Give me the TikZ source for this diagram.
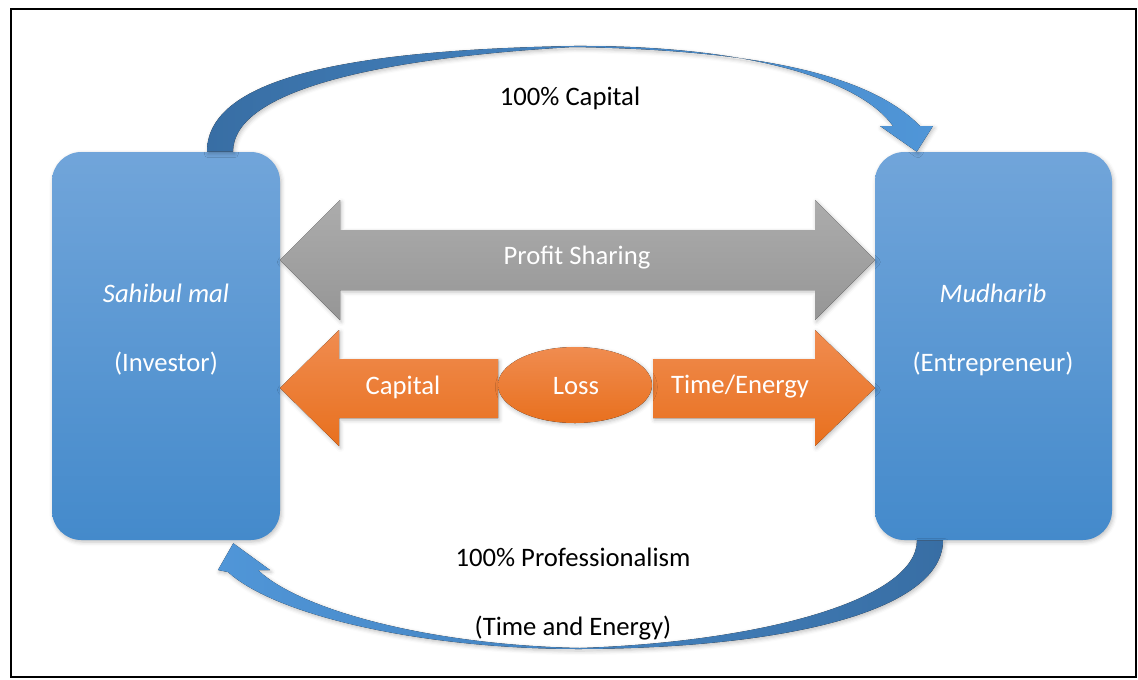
\documentclass[tikz,border=0pt]{standalone}
\usepackage{fontspec}
\setmainfont{Carlito}
\usepackage{xcolor}
\usetikzlibrary{calc}
\usetikzlibrary{shadows.blur}

\definecolor{boxtop}{RGB}{113,165,218}
\definecolor{boxbot}{RGB}{68,138,203}
\definecolor{curvedark}{RGB}{56,110,164}
\definecolor{curvelight}{RGB}{80,150,216}
\definecolor{curvepale}{RGB}{160,196,232}
\definecolor{greytop}{RGB}{172,172,172}
\definecolor{greybot}{RGB}{150,150,150}
\definecolor{orangetop}{RGB}{240,140,80}
\definecolor{orangebot}{RGB}{232,112,30}

\begin{document}
\begin{tikzpicture}[x=0.75pt,y=0.75pt,yscale=-1,xscale=1,
  every node/.style={font=\fontsize{20}{24}\selectfont},
  partybox/.style={draw=none,rounded corners=22pt,top color=boxtop,bottom color=boxbot,minimum height=291pt,
    blur shadow={shadow xshift=1pt,shadow yshift=-1.5pt,shadow blur radius=3pt,shadow opacity=25}},
  softshadow/.style={blur shadow={shadow xshift=1pt,shadow yshift=-1.5pt,shadow blur radius=3pt,shadow opacity=25}},
  inlabel/.style={text=white,inner sep=0.75pt},
  outlabel/.style={text=black,inner sep=0.75pt}]
	\useasboundingbox (0,0) rectangle (1138,679);

	%Shape: Frame
	\draw [line width=1.5pt] (11,9) rectangle (1136,677);

	%Shape: Rounded Rect [id:investor]
	\node [partybox,minimum width=171pt] (inv) at (166,346) {};
	%Shape: Rounded Rect [id:entrepreneur]
	\node [partybox,minimum width=177.75pt] (ent) at (993.5,346) {};

	\coordinate (capS1) at ($(inv.north)+(41,0)$);
	\coordinate (capS2) at ($(inv.north)+(67,0)$);
	\coordinate (capT) at ($(ent.north west)+(42,0)$);
	\coordinate (proS1) at ($(ent.south)+(-50.5,0)$);
	\coordinate (proS2) at ($(ent.south)+(-76.5,0)$);
	\coordinate (proT) at ($(inv.south east)+(-47,3)$);

	%Shape: Curved Arrow [id:capital flow]
	\fill [left color=curvedark,middle color=curvepale,right color=curvelight,softshadow] (capS1) .. controls (207,75) and (360,50) .. (573,46) .. controls (750,45) and (860,80) .. (893,126) -- (880,126) -- (capT) -- (933,126) -- (920,126) .. controls (870,75) and (760,50) .. (573,47) .. controls (380,58) and (233,90) .. (capS2) -- cycle ;
	%Shape: Curved Arrow [id:professionalism flow]
	\fill [left color=curvelight,middle color=curvepale,right color=curvedark,softshadow] (proS1) .. controls (943,610) and (790,648) .. (580,649) .. controls (420,649) and (275,615) .. (228,572) -- (218,570) -- (proT) -- (270,570) -- (258,570) .. controls (300,610) and (430,645) .. (580,648) .. controls (760,642) and (917,600) .. (proS2) -- cycle ;

	%Shape: Double Arrow [id:profit sharing]
	\fill [top color=greytop,bottom color=greybot,softshadow] (280,260) -- (340,200) -- (340,230) -- (815,230) -- (815,200) -- (875,260) -- (815,320) -- (815,290) -- (340,290) -- (340,320) -- cycle ;
	%Shape: Left Arrow [id:capital loss]
	\fill [top color=orangetop,bottom color=orangebot,softshadow] (280,388) -- (339,330) -- (339,359) -- (498,359) -- (498,418) -- (339,418) -- (339,446) -- cycle ;
	%Shape: Right Arrow [id:time loss]
	\fill [top color=orangetop,bottom color=orangebot,softshadow] (653,359) -- (815,359) -- (815,330) -- (875,388) -- (815,446) -- (815,418) -- (653,418) -- cycle ;
	%Shape: Ellipse [id:loss]
	\fill [top color=orangetop,bottom color=orangebot,softshadow] (575,385) ellipse (77 and 38) ;

	% Text Node
	\draw (166,293) node [inlabel] (invname) {\itshape Sahibul mal};
	% Text Node
	\draw (166,364) node [inlabel] (invrole) {(Investor)};
	% Text Node
	\draw (993,293) node [inlabel] (entname) {\itshape Mudharib};
	% Text Node
	\draw (993,364) node [inlabel] (entrole) {(Entrepreneur)};
	% Text Node
	\draw (577,258) node [inlabel] (sharetxt) {Profit Sharing};
	% Text Node
	\draw (403,387) node [inlabel] (capitaltxt) {Capital};
	% Text Node
	\draw (576,386) node [inlabel] (losstxt) {Loss};
	% Text Node
	\draw (740,387) node [inlabel] (timetxt) {Time/Energy};
	% Text Node
	\draw (570,98) node [outlabel] (captop) {100\% Capital};
	% Text Node
	\draw (573,557) node [outlabel] (proftop) {100\% Professionalism};
	% Text Node
	\draw (573,628) node [outlabel] (profsub) {(Time and Energy)};

\end{tikzpicture}
\end{document}
